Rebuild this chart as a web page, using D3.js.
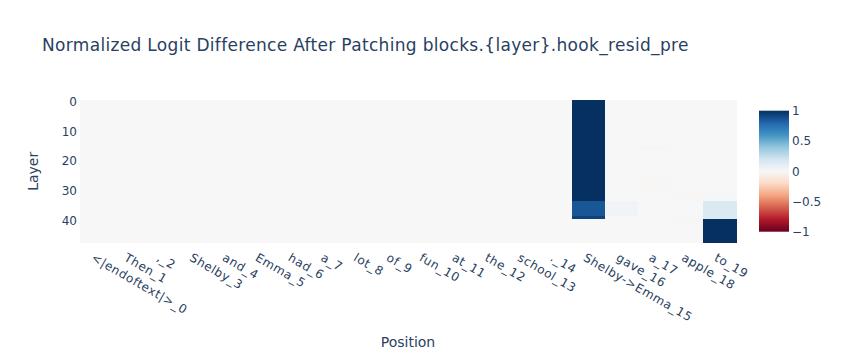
<!DOCTYPE html>
<html>
<head>
<meta charset="utf-8">
<script src="https://cdn.jsdelivr.net/npm/d3@7"></script>
<style>
  html, body { margin: 0; padding: 0; background: #fff; }
  svg { display: block; font-family: "DejaVu Sans", verdana, arial, sans-serif; }
</style>
</head>
<body>
<svg id="chart" width="845" height="360"></svg>
<script>
// ---------- DATA ----------
const titleText = "Normalized Logit Difference After Patching blocks.{layer}.hook_resid_pre";
const positions = ["<|endoftext|>_0", "Then_1", ",_2", "Shelby_3", "and_4", "Emma_5", "had_6", "a_7",
  "lot_8", "of_9", "fun_10", "at_11", "the_12", "school_13", "._14", "Shelby->Emma_15",
  "gave_16", "a_17", "apple_18", "to_19"];
const layers = d3.range(48);
const yTicks = [0, 10, 20, 30, 40];
const colorTicks = [1, 0.5, 0, -0.5, -1];
const rdbu = ["rgb(103,0,31)", "rgb(178,24,43)", "rgb(214,96,77)", "rgb(244,165,130)", "rgb(253,219,199)",
  "rgb(247,247,247)", "rgb(209,229,240)", "rgb(146,197,222)", "rgb(67,147,195)", "rgb(33,102,172)", "rgb(5,48,97)"];

// rows = layers 0..47, columns = positions 0..19
const logitDiff = [
  [0,0,0,0,0,0,0,0,0,0,0,0,0,0,0,1.00,0,0,0,0],
  [0,0,0,0,0,0,0,0,0,0,0,0,0,0,0,1.00,0,0,0,0],
  [0,0,0,0,0,0,0,0,0,0,0,0,0,0,0,1.00,0,0,0,0],
  [0,0,0,0,0,0,0,0,0,0,0,0,0,0,0,1.00,0,0,0,0],
  [0,0,0,0,0,0,0,0,0,0,0,0,0,0,0,1.00,0,0,0,0],
  [0,0,0,0,0,0,0,0,0,0,0,0,0,0,0,1.00,0,0,0,0],
  [0,0,0,0,0,0,0,0,0,0,0,0,0,0,0,1.00,0,0,0,0],
  [0,0,0,0,0,0,0,0,0,0,0,0,0,0,0,1.00,0,0,0,0],
  [0,0,0,0,0,0,0,0,0,0,0,0,0,0,0,1.00,0,0,0,0],
  [0,0,0,0,0,0,0,0,0,0,0,0,0,0,0,1.00,0,0,0,0],
  [0,0,0,0,0,0,0,0,0,0,0,0,0,0,0,1.00,0,0,0,0],
  [0,0,0,0,0,0,0,0,0,0,0,0,0,0,0,1.00,0,0,0,0],
  [0,0,0,0,0,0,0,0,0,0,0,0,0,0,0,1.00,0,0,0,0],
  [0,0,0,0,0,0,0,0,0,0,0,0,0,0,0,1.00,0,0,0,0],
  [0,0,0,0,0,0,0,0,0,0,0,0,0,0,0,1.00,0,0,0,0],
  [0,0,0,0,0,0,0,0,0,0,0,0,0,0,0,1.00,0,-0.012,0,0],
  [0,0,0,0,0,0,0,0,0,0,0,0,0,0,0,1.00,0,-0.006,0,0],
  [0,0,0,0,0,0,0,0,0,0,0,0,0,0,0,1.00,0,0,0,0],
  [0,0,0,0,0,0,0,0,0,0,0,0,0,0,0,1.00,0,0,0,0],
  [0,0,0,0,0,0,0,0,0,0,0,0,0,0,0,1.00,0,0,0,0],
  [0,0,0,0,0,0,0,0,0,0,0,0,0,0,0,1.00,0,0,0,0],
  [0,0,0,0,0,0,0,0,0,0,0,0,0,0,0,1.00,0,0,0,0],
  [0,0,0,0,0,0,0,0,0,0,0,0,0,0,0,1.00,0,0,0,0],
  [0,0,0,0,0,0,0,0,0,0,0,0,0,0,0,1.00,0,0,0,0],
  [0,0,0,0,0,0,0,0,0,0,0,0,0,0,0,1.00,0,0,0,0],
  [0,0,0,0,0,0,0,0,0,0,0,0,0,0,0,1.00,0,0,0,0],
  [0,0,0,0,0,0,0,0,0,0,0,0,0,0,0,1.00,0,-0.008,0,0],
  [0,0,0,0,0,0,0,0,0,0,0,0,0,0,0,1.00,0,-0.01,0,0],
  [0,0,0,0,0,0,0,0,0,0,0,0,0,0,0,1.00,0,-0.008,0,0],
  [0,0,0,0,0,0,0,0,0,0,0,0,0,0,0,1.00,0,-0.005,0,0],
  [0,0,0,0,0,0,0,0,0,0,0,0,0,0,0,1.00,0,-0.005,0,0.005],
  [0,0,0,0,0,0,0,0,0,0,0,0,0,0,0,1.00,0.005,0,-0.008,0.01],
  [0,0,0,0,0,0,0,0,0,0,0,0,0,0,0,1.00,0.005,0,-0.008,0.01],
  [0,0,0,0,0,0,0,0,0,0,0,0,0,0,0,1.00,0.005,0,-0.005,0.01],
  [0,0,0,0,0,0,0,0,0,0,0,0,0,0,0,0.86,0.03,0,0,0.15],
  [0,0,0,0,0,0,0,0,0,0,0,0,0,0,0,0.86,0.03,0,0,0.15],
  [0,0,0,0,0,0,0,0,0,0,0,0,0,0,0,0.86,0.03,0,0,0.15],
  [0,0,0,0,0,0,0,0,0,0,0,0,0,0,0,0.86,0.03,0,0,0.15],
  [0,0,0,0,0,0,0,0,0,0,0,0,0,0,0,0.86,0.03,0,0,0.15],
  [0,0,0,0,0,0,0,0,0,0,0,0,0,0,0,0.93,0.005,0,-0.005,0.15],
  [0,0,0,0,0,0,0,0,0,0,0,0,0,0,0,0,0,0,-0.005,1.00],
  [0,0,0,0,0,0,0,0,0,0,0,0,0,0,0,0,0,0,0,1.00],
  [0,0,0,0,0,0,0,0,0,0,0,0,0,0,0,0,0,0,0,1.00],
  [0,0,0,0,0,0,0,0,0,0,0,0,0,0,0,0,0,0,0,1.00],
  [0,0,0,0,0,0,0,0,0,0,0,0,0,0,0,0,0,0,0,1.00],
  [0,0,0,0,0,0,0,0,0,0,0,0,0,0,0,0,0,0,0,1.00],
  [0,0,0,0,0,0,0,0,0,0,0,0,0,0,0,0,0,0,0,1.00],
  [0,0,0,0,0,0,0,0,0,0,0,0,0,0,0,0,0,0,0,1.00]
];

// ---------- LAYOUT ----------
const plot = { left: 80, right: 736, top: 100, bottom: 242.7 };
const cbar = { x: 759, width: 30, top: 110.7, bottom: 231.7 };
const textColor = "#2a3f5f";
const fontFam = '"DejaVu Sans", verdana, arial, sans-serif';

const svg = d3.select("#chart");

const x = d3.scaleBand().domain(d3.range(positions.length)).range([plot.left, plot.right]).padding(0);
const yBand = d3.scaleBand().domain(layers).range([plot.top, plot.bottom]).padding(0);
const yLin = d3.scaleLinear().domain([-0.5, layers.length - 0.5]).range([plot.top, plot.bottom]);
const color = d3.scaleLinear()
  .domain(d3.range(rdbu.length).map(i => -1 + 2 * i / (rdbu.length - 1)))
  .range(rdbu)
  .interpolate(d3.interpolateRgb)
  .clamp(true);

// cells
const cells = [];
logitDiff.forEach((row, li) => row.forEach((v, pi) => cells.push({ layer: layers[li], pos: pi, v })));
svg.append("g").attr("shape-rendering", "crispEdges")
  .selectAll("rect").data(cells).join("rect")
  .attr("x", d => x(d.pos))
  .attr("y", d => yBand(d.layer))
  .attr("width", x.bandwidth() + 0.5)
  .attr("height", yBand.bandwidth() + 0.5)
  .attr("fill", d => color(d.v));

// y axis
const yAxis = svg.append("g")
  .attr("transform", `translate(${plot.left},0)`)
  .call(d3.axisLeft(yLin).tickValues(yTicks).tickSize(0).tickPadding(3).tickFormat(d3.format("d")));
yAxis.select(".domain").remove();
yAxis.selectAll("text").attr("fill", textColor).style("font-size", "12px").style("font-family", fontFam);

// x axis
const xAxis = svg.append("g")
  .attr("transform", `translate(0,${plot.bottom})`)
  .call(d3.axisBottom(x).tickSize(0).tickFormat(i => positions[i]));
xAxis.select(".domain").remove();
xAxis.selectAll("text")
  .attr("fill", textColor)
  .style("font-size", "12px")
  .style("letter-spacing", "0.6px")
  .style("font-family", fontFam)
  .attr("text-anchor", "start")
  .attr("x", 0).attr("y", 12).attr("dy", null)
  .attr("transform", "translate(0,7) rotate(30)");

// title
svg.append("text").attr("x", 42).attr("y", 51).style("font-family", fontFam)
  .style("letter-spacing", "0.32px")
  .attr("fill", textColor).style("font-size", "17px").text(titleText);

// axis titles
svg.append("text").attr("x", (plot.left + plot.right) / 2).attr("y", 347).style("font-family", fontFam)
  .attr("text-anchor", "middle").attr("fill", textColor).style("font-size", "14px").text("Position");
svg.append("text").attr("transform", `translate(38,${(plot.top + plot.bottom) / 2}) rotate(-90)`)
  .style("font-family", fontFam)
  .attr("text-anchor", "middle").attr("fill", textColor).style("font-size", "14px").text("Layer");

// colorbar
const defs = svg.append("defs");
const grad = defs.append("linearGradient").attr("id", "cbgrad")
  .attr("x1", 0).attr("y1", 1).attr("x2", 0).attr("y2", 0);
rdbu.forEach((c, i) => grad.append("stop").attr("offset", i / (rdbu.length - 1)).attr("stop-color", c));
svg.append("rect").attr("x", cbar.x).attr("y", cbar.top).attr("width", cbar.width)
  .attr("height", cbar.bottom - cbar.top).attr("fill", "url(#cbgrad)");
const cScale = d3.scaleLinear().domain([-1, 1]).range([cbar.bottom, cbar.top]);
const cAxis = svg.append("g").attr("transform", `translate(${cbar.x + cbar.width},0)`)
  .call(d3.axisRight(cScale).tickValues(colorTicks).tickSize(0).tickPadding(3)
    .tickFormat(d => d3.format("")(d).replace("-", "\u2212")));
cAxis.select(".domain").remove();
cAxis.selectAll("text").attr("fill", textColor).style("font-size", "12px").style("font-family", fontFam);
</script>
</body>
</html>
